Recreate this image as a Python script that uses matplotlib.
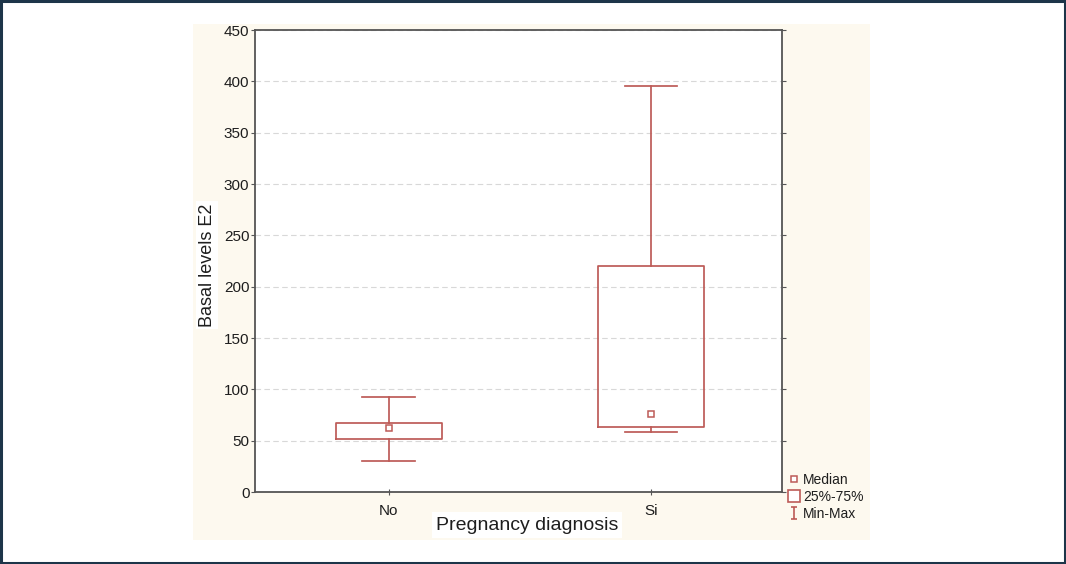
"""Box plot of basal E2 levels by pregnancy diagnosis (Statistica-style)."""

import matplotlib
matplotlib.use("Agg")
import matplotlib.pyplot as plt
from matplotlib.lines import Line2D
from matplotlib.patches import Rectangle
from matplotlib.path import Path

plt.rcParams["font.family"] = ["Liberation Sans", "DejaVu Sans"]

# data
groups = ["No", "Si"]
mins = [30, 58]
q1s = [52, 63]
medians = [62, 76]
q3s = [67, 220]
maxs = [93, 395]
y_ticks = [0, 50, 100, 150, 200, 250, 300, 350, 400, 450]

RED = "#bd5b57"
AXIS = "#555555"
TEXT = "#1e1e1e"
W, H = 1066, 564

fig = plt.figure(figsize=(W / 100, H / 100), dpi=100)
fig.patch.set_facecolor("white")

# cream panel behind the chart and dark frame round the image
fig.patches.append(Rectangle((193 / W, 24 / H), 677 / W, 516 / H,
                             transform=fig.transFigure, facecolor="#fdf9ef",
                             edgecolor="none", zorder=-5))
fig.patches.append(Rectangle((0.001, 0.002), 0.998, 0.996,
                             transform=fig.transFigure, facecolor="none",
                             edgecolor="#1d3549", linewidth=2.2, zorder=10))

ax = fig.add_axes([255 / W, 72 / H, 527 / W, 462 / H])
ax.set_zorder(2)
ax.set_facecolor("white")

stats = [
    {"whislo": lo, "q1": a, "med": m, "q3": b, "whishi": hi, "fliers": []}
    for lo, a, m, b, hi in zip(mins, q1s, medians, q3s, maxs)
]
positions = list(range(len(groups)))
ax.bxp(stats, positions=positions, widths=0.405, capwidths=0.2,
       showfliers=False,
       boxprops=dict(color=RED, linewidth=1.25),
       whiskerprops=dict(color=RED, linewidth=1.25),
       capprops=dict(color=RED, linewidth=1.25),
       medianprops=dict(linestyle="none"))
ax.plot(positions, medians, "s", ms=5, mfc="white", mec=RED, mew=1.1,
        linestyle="none", zorder=5)

ax.set_xlim(-0.51, 1.5)
ax.set_ylim(0, 450)
ax.set_yticks(y_ticks)
ax.set_xticks(positions)
ax.set_xticklabels(groups)
ax.grid(axis="y", color="#d8d8d8", linestyle=(0, (5, 3)), linewidth=0.8)
ax.set_axisbelow(True)
for s in ax.spines.values():
    s.set_color(AXIS)
    s.set_linewidth(1.3)
ax.tick_params(axis="y", direction="out", length=3, color=AXIS,
               labelsize=11, labelcolor=TEXT, pad=1, right=True)
ax.tick_params(axis="x", direction="inout", length=5, color=AXIS,
               labelsize=11, labelcolor=TEXT, pad=6)

fig.text(207 / W, 1 - 265 / H, "Basal levels E2", rotation=90, fontsize=13,
         ha="center", va="center", color=TEXT,
         bbox=dict(facecolor="white", edgecolor="none", pad=2))
fig.text(527 / W, 1 - 525 / H, "Pregnancy diagnosis", fontsize=14,
         ha="center", va="center", color=TEXT,
         bbox=dict(facecolor="white", edgecolor="none", pad=3))

# legend: median square, 25-75 box, min-max whisker icon
minmax_marker = Path([(-0.5, -1), (0.5, -1), (0, -1), (0, 1), (-0.5, 1), (0.5, 1)],
                     [Path.MOVETO, Path.LINETO, Path.MOVETO, Path.LINETO,
                      Path.MOVETO, Path.LINETO])
handles = [
    Line2D([], [], marker="s", ms=4, mfc="white", mec=RED, mew=1.1, linestyle="none"),
    Line2D([], [], marker="s", ms=9, mfc="white", mec=RED, mew=1.2, linestyle="none"),
    Line2D([], [], marker=minmax_marker, ms=9, mec=RED, mew=1.2, linestyle="none"),
]
leg = fig.legend(handles, ["Median", "25%-75%", "Min-Max"], loc="upper left",
                 bbox_to_anchor=(788 / W, 1 - 473 / H), frameon=False,
                 fontsize=10, handlelength=0.8, handletextpad=0.3,
                 labelspacing=0.22, borderpad=0, borderaxespad=0)
for t in leg.get_texts():
    t.set_color(TEXT)

fig.savefig("out.png", dpi=100)
